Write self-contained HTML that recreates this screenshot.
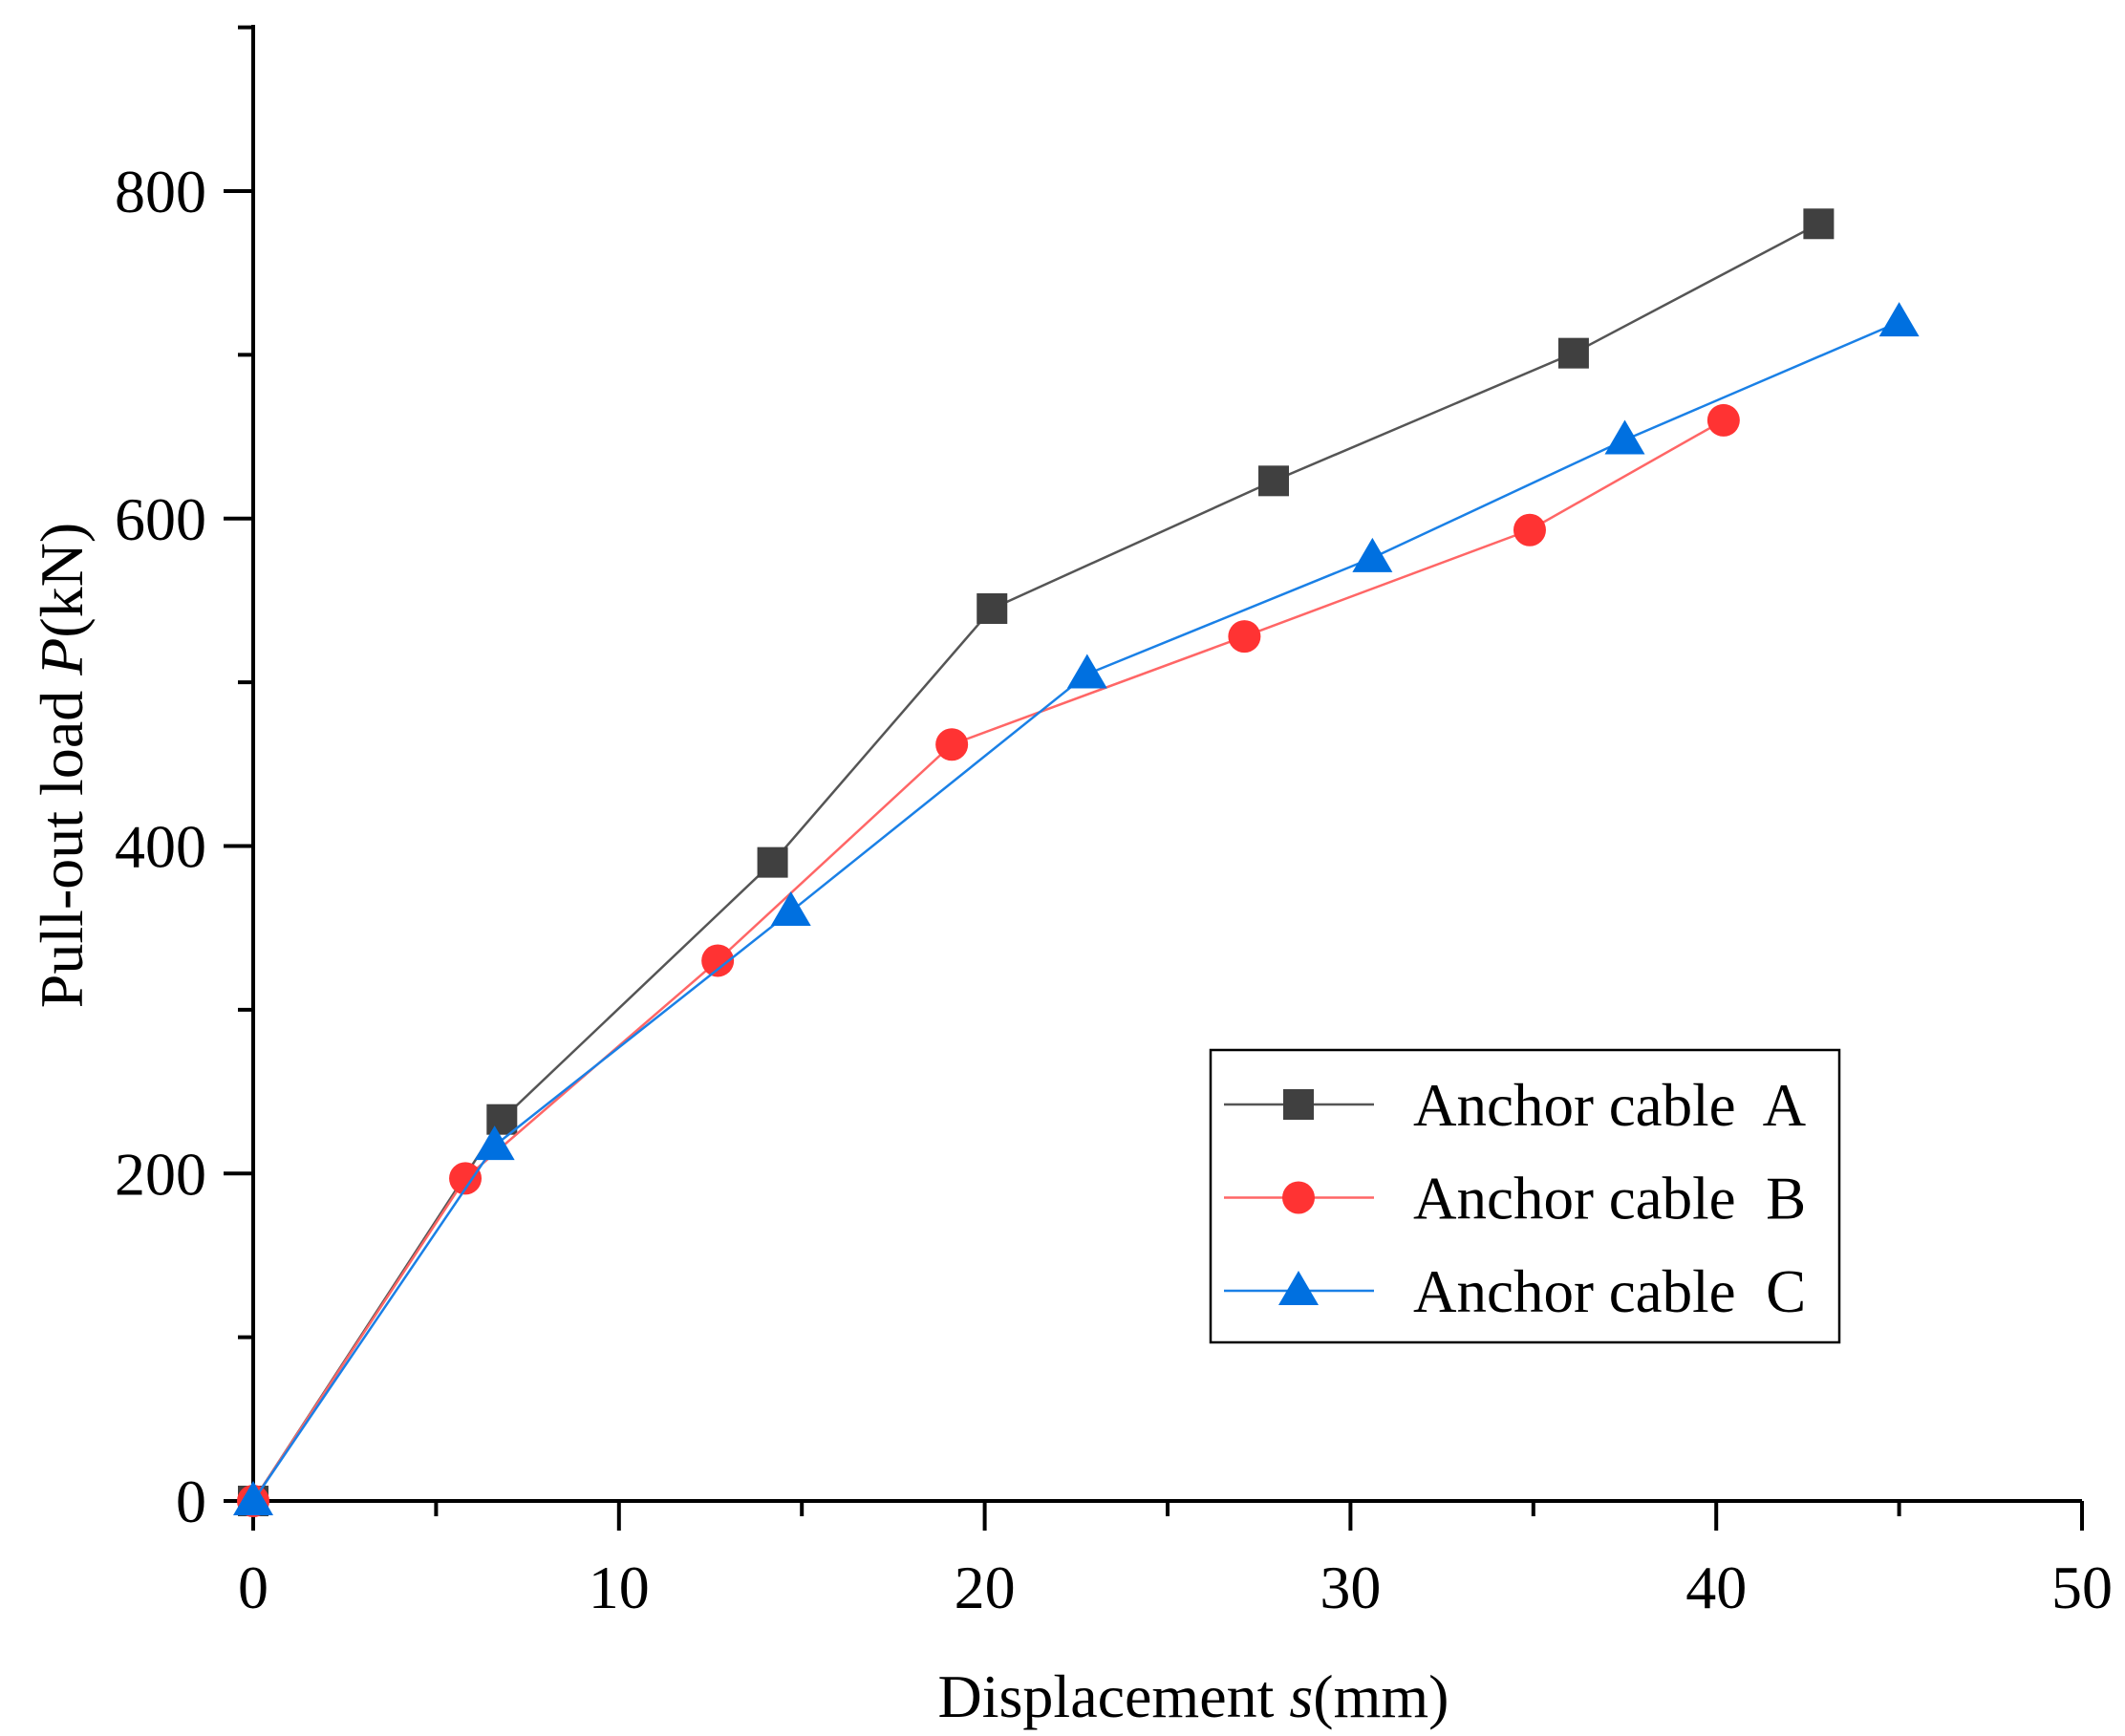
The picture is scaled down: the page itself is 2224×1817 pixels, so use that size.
<!DOCTYPE html>
<html><head><meta charset="utf-8"><style>
body{margin:0;background:#fff;}
svg{display:block;font-family:"Liberation Serif",serif;}
</style></head><body>
<svg id="chart" width="2224" height="1817" viewBox="0 0 2224 1817">
<g id="axes"></g><g id="series"></g><g id="legend"></g>
</svg>
<script>
const xTicks=[0,10,20,30,40,50];
const yTicks=[0,200,400,600,800];
const xA=[0,6.8,14.2,20.2,27.9,36.1,42.8];
const yA=[0,233,390,545,623,701,780];
const xB=[0,5.8,12.7,19.1,27.1,34.9,40.2];
const yB=[0,197,330,462,528,593,660];
const xC=[0,6.6,14.7,22.8,30.6,37.5,45.0];
const yC=[0,217,360,505,576,648,720];
const seriesNames=["Anchor cable  A","Anchor cable  B","Anchor cable  C"];

const NS="http://www.w3.org/2000/svg";
const X0=265,X1=2179,Y0=1571,Ytop=26;
const sx=v=>X0+(X1-X0)*v/50;
const sy=v=>Y0-(Y0-200)*v/800;
function mk(tag,attrs,parent){const e=document.createElementNS(NS,tag);for(const k in attrs)e.setAttribute(k,attrs[k]);parent.appendChild(e);return e;}
const axes=document.getElementById('axes');
let l=mk('line',{x1:X0,y1:Ytop,x2:X0,y2:Y0+2,stroke:'#000','stroke-width':4},axes);


l=mk('line',{x1:X0-2,y1:Y0,x2:X1,y2:Y0,stroke:'#000','stroke-width':4},axes);


for(let v=0;v<=50;v+=5){const major=v%10===0;
 const t=mk('line',{x1:sx(v),y1:Y0,x2:sx(v),y2:Y0+(major?31:16),stroke:'#000','stroke-width':4},axes);
 
 }
for(let v=0;v<=900;v+=100){const major=v%200===0;
 const t=mk('line',{x1:X0,y1:sy(v),x2:X0-(major?31:16),y2:sy(v),stroke:'#000','stroke-width':4},axes);
 
 }
xTicks.forEach(v=>{const t=mk('text',{x:sx(v),y:1683,'font-size':64,'text-anchor':'middle'},axes);t.textContent=v;
 
 });
yTicks.forEach(v=>{const t=mk('text',{x:216,y:sy(v)+22,'font-size':64,'text-anchor':'end'},axes);t.textContent=v;
 
 });
let xt=mk('text',{x:1249,y:1797,'font-size':64,'text-anchor':'middle'},axes);
xt.innerHTML='Displacement <tspan font-style="italic">s</tspan>(mm)';


let yt=mk('text',{x:0,y:0,'font-size':64,'text-anchor':'middle',transform:'translate(86,801) rotate(-90)'},axes);
yt.innerHTML='Pull-out load <tspan font-style="italic">P</tspan>(kN)';



const colors=['#404040','#ff3333','#0070e0'];
const lineCols=['#555','#ff6666','#1a80e6'];
function marker(i,cx,cy,parent){
 if(i===0)return mk('rect',{x:cx-16,y:cy-16,width:32,height:32,fill:colors[0]},parent);
 if(i===1)return mk('circle',{cx:cx,cy:cy,r:17,fill:colors[1]},parent);
 return mk('polygon',{points:`${cx},${cy-21} ${cx+21},${cy+15} ${cx-21},${cy+15}`,fill:colors[2]},parent);
}
const sg=document.getElementById('series');
[[xA,yA],[xB,yB],[xC,yC]].forEach((d,i)=>{
 const g=mk('g',{},sg);
 
 
 const p=mk('polyline',{points:d[0].map((x,j)=>sx(x)+','+sy(d[1][j])).join(' '),fill:'none',stroke:lineCols[i],'stroke-width':2.5},g);
 
 
 d[0].forEach((x,j)=>{const m=marker(i,sx(x),sy(d[1][j]),g);
  
  });
});
const lg=document.getElementById('legend');
let box=mk('rect',{x:1267,y:1099,width:658,height:306,fill:'#fff',stroke:'#000','stroke-width':2.5},lg);


seriesNames.forEach((n,i)=>{const y=1156+i*97.5;
 const g=mk('g',{},lg);
 
 
 mk('line',{x1:1281,y1:y,x2:1438,y2:y,stroke:lineCols[i],'stroke-width':2.5},g);
 marker(i,1359,y,g);
 const t=mk('text',{x:1479,y:y+22,'font-size':63},g);t.textContent=n;
 t.setAttribute('style','white-space:pre');
 t.setAttribute('xml:space','preserve');
});
</script>
</body></html>
